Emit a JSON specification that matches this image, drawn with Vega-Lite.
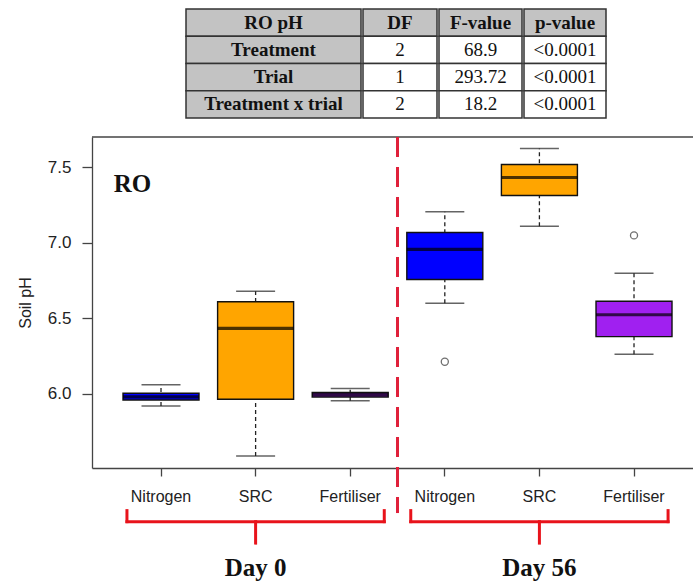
{
  "$schema": "https://vega.github.io/schema/vega-lite/v6.json",
  "padding": {"left": 17, "top": 8, "right": 0, "bottom": 0},
  "background": "white",
  "config": {
    "view": {"stroke": null},
    "font": "Liberation Sans"
  },
  "datasets": {
    "anova": [
      {"term": "RO pH", "DF": "DF", "F": "F-value", "p": "p-value"},
      {"term": "Treatment", "DF": "2", "F": "68.9", "p": "<0.0001"},
      {"term": "Trial", "DF": "1", "F": "293.72", "p": "<0.0001"},
      {"term": "Treatment x trial", "DF": "2", "F": "18.2", "p": "<0.0001"}
    ],
    "boxes": [
      {"group": "Nitrogen (Day 0)", "day": "Day 0", "treatment": "Nitrogen", "min": 5.92, "q1": 5.96, "median": 5.98, "q3": 6.005, "max": 6.06},
      {"group": "SRC (Day 0)", "day": "Day 0", "treatment": "SRC", "min": 5.59, "q1": 5.965, "median": 6.434, "q3": 6.61, "max": 6.68},
      {"group": "Fertiliser (Day 0)", "day": "Day 0", "treatment": "Fertiliser", "min": 5.955, "q1": 5.98, "median": 5.995, "q3": 6.01, "max": 6.036},
      {"group": "Nitrogen (Day 56)", "day": "Day 56", "treatment": "Nitrogen", "min": 6.6, "q1": 6.757, "median": 6.957, "q3": 7.068, "max": 7.205},
      {"group": "SRC (Day 56)", "day": "Day 56", "treatment": "SRC", "min": 7.11, "q1": 7.313, "median": 7.432, "q3": 7.518, "max": 7.624},
      {"group": "Fertiliser (Day 56)", "day": "Day 56", "treatment": "Fertiliser", "min": 6.263, "q1": 6.379, "median": 6.524, "q3": 6.613, "max": 6.798}
    ],
    "outliers": [
      {"group": "Nitrogen (Day 56)", "treatment": "Nitrogen", "value": 6.213},
      {"group": "Fertiliser (Day 56)", "treatment": "Fertiliser", "value": 7.049}
    ],
    "days": [
      {"day": "Day 0", "first": "Nitrogen (Day 0)", "mid": "SRC (Day 0)", "last": "Fertiliser (Day 0)"},
      {"day": "Day 56", "first": "Nitrogen (Day 56)", "mid": "SRC (Day 56)", "last": "Fertiliser (Day 56)"}
    ]
  },
  "align": "each",
  "spacing": 16,
  "vconcat": [
    {
      "spacing": 0,
      "hconcat": [
        {
          "width": 93,
          "height": 109,
          "data": {"values": [{}]},
          "mark": {"type": "rect", "fill": "white", "strokeWidth": 0}
        },
        {
          "width": 175,
          "height": 109,
          "data": {"name": "anova"},
          "encoding": {
            "y": {"field": "term", "type": "nominal", "sort": null, "axis": null, "scale": {"paddingInner": 0, "paddingOuter": 0}}
          },
          "layer": [
            {"mark": {"type": "rect", "fill": "#c3c3c3", "stroke": "#333", "strokeWidth": 1.5}},
            {
              "mark": {"type": "text", "font": "Liberation Serif", "fontSize": 19, "fontWeight": "bold", "color": "#111", "baseline": "middle"},
              "encoding": {"text": {"field": "term"}}
            }
          ]
        },
        {
          "width": 74,
          "height": 109,
          "data": {"name": "anova"},
          "encoding": {
            "y": {"field": "term", "type": "nominal", "sort": null, "axis": null, "scale": {"paddingInner": 0, "paddingOuter": 0}}
          },
          "layer": [
            {
              "mark": {"type": "rect", "stroke": "#333", "strokeWidth": 1.5},
              "encoding": {"fill": {"condition": {"test": "datum.term === 'RO pH'", "value": "#c3c3c3"}, "value": "white"}}
            },
            {
              "transform": [{"filter": "datum.term === 'RO pH'"}],
              "mark": {"type": "text", "font": "Liberation Serif", "fontSize": 19, "fontWeight": "bold", "color": "#111", "baseline": "middle"},
              "encoding": {"text": {"field": "DF"}}
            },
            {
              "transform": [{"filter": "datum.term !== 'RO pH'"}],
              "mark": {"type": "text", "font": "Liberation Serif", "fontSize": 19, "color": "#111", "baseline": "middle"},
              "encoding": {"text": {"field": "DF"}}
            }
          ]
        },
        {
          "width": 83,
          "height": 109,
          "data": {"name": "anova"},
          "encoding": {
            "y": {"field": "term", "type": "nominal", "sort": null, "axis": null, "scale": {"paddingInner": 0, "paddingOuter": 0}}
          },
          "layer": [
            {
              "mark": {"type": "rect", "stroke": "#333", "strokeWidth": 1.5},
              "encoding": {"fill": {"condition": {"test": "datum.term === 'RO pH'", "value": "#c3c3c3"}, "value": "white"}}
            },
            {
              "transform": [{"filter": "datum.term === 'RO pH'"}],
              "mark": {"type": "text", "font": "Liberation Serif", "fontSize": 19, "fontWeight": "bold", "color": "#111", "baseline": "middle"},
              "encoding": {"text": {"field": "F"}}
            },
            {
              "transform": [{"filter": "datum.term !== 'RO pH'"}],
              "mark": {"type": "text", "font": "Liberation Serif", "fontSize": 19, "color": "#111", "baseline": "middle"},
              "encoding": {"text": {"field": "F"}}
            }
          ]
        },
        {
          "width": 82,
          "height": 109,
          "data": {"name": "anova"},
          "encoding": {
            "y": {"field": "term", "type": "nominal", "sort": null, "axis": null, "scale": {"paddingInner": 0, "paddingOuter": 0}}
          },
          "layer": [
            {
              "mark": {"type": "rect", "stroke": "#333", "strokeWidth": 1.5},
              "encoding": {"fill": {"condition": {"test": "datum.term === 'RO pH'", "value": "#c3c3c3"}, "value": "white"}}
            },
            {
              "transform": [{"filter": "datum.term === 'RO pH'"}],
              "mark": {"type": "text", "font": "Liberation Serif", "fontSize": 19, "fontWeight": "bold", "color": "#111", "baseline": "middle"},
              "encoding": {"text": {"field": "p"}}
            },
            {
              "transform": [{"filter": "datum.term !== 'RO pH'"}],
              "mark": {"type": "text", "font": "Liberation Serif", "fontSize": 19, "color": "#111", "baseline": "middle"},
              "encoding": {"text": {"field": "p"}}
            }
          ]
        }
      ]
    },
    {
      "width": 601,
      "height": 331,
      "layer": [
        {
          "data": {"values": [{}]},
          "mark": {"type": "rule", "color": "#444", "strokeWidth": 1.3},
          "encoding": {"y": {"datum": 7.7, "type": "quantitative"}}
        },
        {
          "data": {"values": [{}]},
          "mark": {"type": "rule", "color": "#e0203a", "strokeWidth": 3, "strokeDash": [20, 10]},
          "encoding": {
            "x": {"datum": "Fertiliser (Day 0)", "type": "nominal", "bandPosition": 1, "title": null},
            "y": {"datum": 7.7, "type": "quantitative"},
            "y2": {"datum": 5.212}
          }
        },
        {
          "data": {"name": "boxes"},
          "mark": {"type": "rule", "color": "#222", "strokeWidth": 1.3, "strokeDash": [4, 3]},
          "encoding": {
            "x": {
              "field": "group", "type": "nominal", "title": null,
              "scale": {
                "type": "band",
                "domain": ["Nitrogen (Day 0)", "SRC (Day 0)", "Fertiliser (Day 0)", "Nitrogen (Day 56)", "SRC (Day 56)", "Fertiliser (Day 56)"],
                "paddingInner": 0, "paddingOuter": 0.1765, "align": 0.65
              },
              "axis": {
                "title": null, "labelAngle": 0, "labelAlign": "center",
                "labelExpr": "substring(datum.label, 0, indexof(datum.label, ' ('))",
                "labelFont": "Liberation Sans", "labelFontSize": 16, "labelColor": "#222", "labelPadding": 20,
                "tickSize": 8, "tickColor": "#444", "tickWidth": 1.3,
                "domainColor": "#444", "domainWidth": 1.3, "grid": false
              }
            },
            "y": {
              "field": "min", "type": "quantitative",
              "scale": {"domain": [5.51, 7.7], "nice": false, "zero": false},
              "axis": {
                "values": [6, 6.5, 7, 7.5], "format": ".1f",
                "labelFont": "Liberation Sans", "labelFontSize": 17, "labelColor": "#222", "labelPadding": 11,
                "tickSize": 10, "tickColor": "#444", "tickWidth": 1.3,
                "domainColor": "#444", "domainWidth": 1.3, "grid": false,
                "title": "Soil pH", "titleFont": "Liberation Sans", "titleFontSize": 16, "titleFontWeight": "normal",
                "titleColor": "#222", "titlePadding": 14
              }
            },
            "y2": {"field": "max"}
          }
        },
        {
          "data": {"name": "boxes"},
          "mark": {"type": "tick", "orient": "horizontal", "color": "#222", "size": 39, "thickness": 1.5},
          "encoding": {
            "x": {"field": "group", "type": "nominal", "title": null},
            "y": {"field": "min", "type": "quantitative"}
          }
        },
        {
          "data": {"name": "boxes"},
          "mark": {"type": "tick", "orient": "horizontal", "color": "#222", "size": 39, "thickness": 1.5},
          "encoding": {
            "x": {"field": "group", "type": "nominal", "title": null},
            "y": {"field": "max", "type": "quantitative"}
          }
        },
        {
          "data": {"name": "boxes"},
          "mark": {"type": "bar", "width": 76, "stroke": "#111", "strokeWidth": 1.4, "opacity": 1},
          "encoding": {
            "x": {"field": "group", "type": "nominal", "title": null},
            "y": {"field": "q1", "type": "quantitative"},
            "y2": {"field": "q3"},
            "fill": {
              "field": "treatment", "type": "nominal", "legend": null,
              "scale": {"domain": ["Nitrogen", "SRC", "Fertiliser"], "range": ["#0000ff", "#ffa500", "#a020f0"]}
            }
          }
        },
        {
          "data": {"name": "boxes"},
          "mark": {"type": "tick", "orient": "horizontal", "color": "#000", "size": 76, "thickness": 3.2},
          "encoding": {
            "x": {"field": "group", "type": "nominal", "title": null},
            "y": {"field": "median", "type": "quantitative"}
          }
        },
        {
          "data": {"name": "outliers"},
          "mark": {"type": "point", "shape": "circle", "size": 50, "filled": false, "color": "#333", "strokeWidth": 1.3},
          "encoding": {
            "x": {"field": "group", "type": "nominal", "title": null},
            "y": {"field": "value", "type": "quantitative"}
          }
        },
        {
          "data": {"values": [{"site": "RO"}]},
          "mark": {"type": "text", "font": "Liberation Serif", "fontSize": 25, "fontWeight": "bold", "color": "#111", "align": "left", "baseline": "middle"},
          "encoding": {
            "x": {"datum": "Nitrogen (Day 0)", "type": "nominal", "bandPosition": 0, "title": null},
            "y": {"datum": 7.39, "type": "quantitative"},
            "text": {"field": "site"}
          }
        },
        {
          "data": {"name": "days"},
          "mark": {"type": "rule", "color": "#e8131b", "strokeWidth": 3, "strokeCap": "square"},
          "encoding": {
            "x": {"field": "first", "type": "nominal", "bandPosition": 0.14, "title": null},
            "x2": {"field": "last", "bandPosition": 0.86},
            "y": {"datum": 5.155, "type": "quantitative"}
          }
        },
        {
          "data": {"name": "days"},
          "mark": {"type": "rule", "color": "#e8131b", "strokeWidth": 3, "strokeCap": "square"},
          "encoding": {
            "x": {"field": "first", "type": "nominal", "bandPosition": 0.14, "title": null},
            "y": {"datum": 5.228, "type": "quantitative"},
            "y2": {"datum": 5.155}
          }
        },
        {
          "data": {"name": "days"},
          "mark": {"type": "rule", "color": "#e8131b", "strokeWidth": 3, "strokeCap": "square"},
          "encoding": {
            "x": {"field": "last", "type": "nominal", "bandPosition": 0.86, "title": null},
            "y": {"datum": 5.228, "type": "quantitative"},
            "y2": {"datum": 5.155}
          }
        },
        {
          "data": {"name": "days"},
          "mark": {"type": "rule", "color": "#e8131b", "strokeWidth": 3, "strokeCap": "square"},
          "encoding": {
            "x": {"field": "mid", "type": "nominal", "bandPosition": 0.5, "title": null},
            "y": {"datum": 5.155, "type": "quantitative"},
            "y2": {"datum": 5.013}
          }
        },
        {
          "data": {"name": "days"},
          "mark": {"type": "text", "font": "Liberation Serif", "fontSize": 25, "fontWeight": "bold", "color": "#111", "baseline": "middle"},
          "encoding": {
            "x": {"field": "mid", "type": "nominal", "bandPosition": 0.5, "title": null},
            "y": {"datum": 4.848, "type": "quantitative"},
            "text": {"field": "day"}
          }
        }
      ]
    }
  ]
}
